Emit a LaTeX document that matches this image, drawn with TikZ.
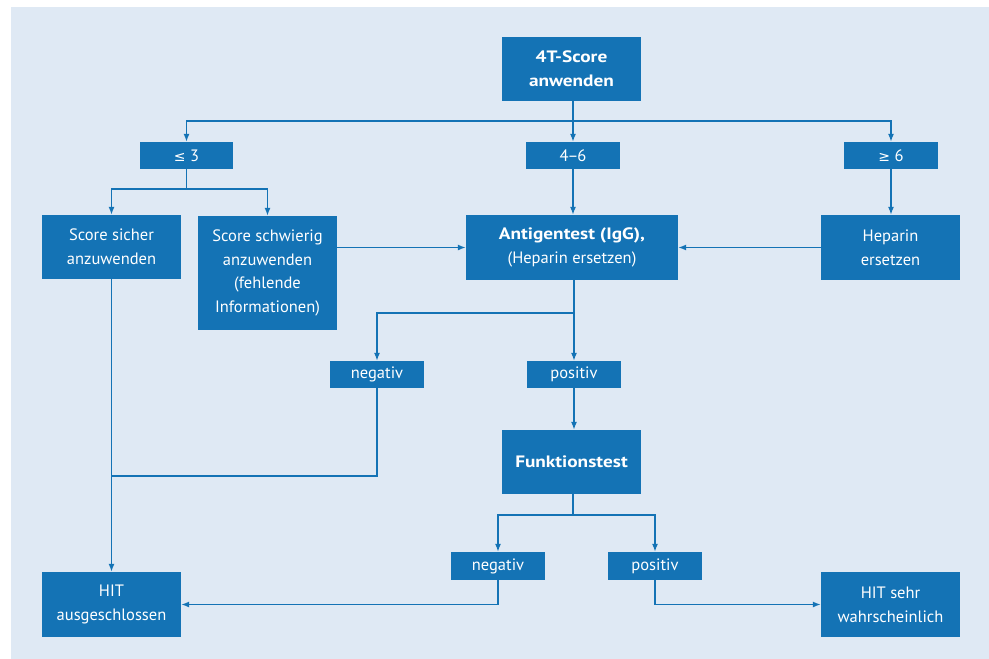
\documentclass[tikz,border=0pt]{standalone}
\usepackage{fontspec}
\setmainfont{PT Sans}
\newfontfamily\symf{DejaVu Sans}
\newfontfamily\boldwide[FakeStretch=1.17]{PT Sans}
\usetikzlibrary{arrows.meta}
\definecolor{boxblue}{HTML}{1473B5}
\definecolor{bgblue}{HTML}{DFE9F4}
\newcommand{\bw}{\boldwide\bfseries}
\begin{document}
\begin{tikzpicture}[x=1pt,y=-1pt,
  box/.style={fill=boxblue,text=white,inner sep=0pt,align=center,font=\fontsize{16.5}{23.7}\selectfont},
  conn/.style={draw=boxblue,line width=1.3pt},
  arr/.style={conn,-{Latex[length=8pt,width=6pt]}}]
\useasboundingbox (0,0) rectangle (989,659);
\fill[bgblue] (11,7) rectangle (989,659);
% nodes
\node[box,minimum width=139pt,minimum height=64pt] (t4) at (571.5,69) {\bw 4T-Score\\\bw anwenden};
\node[box,minimum width=93pt,minimum height=27pt] (le3) at (186.5,155.5) {{\symf\fontsize{14}{15}\selectfont ≤} 3};
\node[box,minimum width=94pt,minimum height=27pt] (m46) at (573,155.5) {4\kern-1pt–\kern-1pt6};
\node[box,minimum width=94pt,minimum height=27pt] (ge6) at (891,155.5) {{\symf\fontsize{14}{15}\selectfont ≥} 6};
\node[box,minimum width=139pt,minimum height=64pt] (sicher) at (111.5,247) {Score sicher\\anzuwenden};
\node[box,minimum width=139pt,minimum height=114pt] (schw) at (267.5,273) {Score schwierig\\anzuwenden\\(fehlende\\Informationen)};
\node[box,minimum width=212pt,minimum height=65pt] (antigen) at (572,247.5) {\bw Antigentest (IgG),\\(Heparin ersetzen)};
\node[box,minimum width=139pt,minimum height=65pt] (hep) at (890.5,247.5) {Heparin\\ersetzen};
\node[box,minimum width=94pt,minimum height=27pt] (neg1) at (377,374.5) {negativ};
\node[box,minimum width=94pt,minimum height=27pt] (pos1) at (574,374.5) {positiv};
\node[box,minimum width=139pt,minimum height=64pt] (funk) at (571.5,462) {\bw Funktionstest};
\node[box,minimum width=94pt,minimum height=28pt] (neg2) at (498,566) {negativ};
\node[box,minimum width=94pt,minimum height=28pt] (pos2) at (655,566) {positiv};
\node[box,minimum width=139pt,minimum height=65pt] (hitaus) at (111.5,604.5) {HIT\\ausgeschlossen};
\node[box,minimum width=139pt,minimum height=65pt] (hitsehr) at (890.5,604.5) {HIT sehr\\wahrscheinlich};
% split coordinates
\coordinate (s1) at (573,121);
\coordinate (s2) at (186.5,189);
\coordinate (s3) at (574,313);
\coordinate (j1) at (111.5,476);
\coordinate (s4) at (573,515);
% connectors
\draw[conn] (t4.south -| s1) -- (s1);
\draw[arr] (s1) -| (le3.north);
\draw[arr] (s1) -- (m46.north);
\draw[arr] (s1) -| (ge6.north);
\draw[conn] (le3.south) -- (s2);
\draw[arr] (s2) -| (sicher.north);
\draw[arr] (s2) -| (schw.north);
\draw[arr] (m46.south) -- (antigen.north -| m46.south);
\draw[arr] (ge6.south) -- (hep.north -| ge6.south);
\draw[arr] (schw.east |- antigen.west) -- (antigen.west);
\draw[arr] (hep.west) -- (antigen.east);
\draw[conn] (antigen.south -| s3) -- (s3);
\draw[arr] (s3) -| (neg1.north);
\draw[arr] (s3) -- (pos1.north);
\draw[arr] (pos1.south) -- (funk.north -| pos1.south);
\draw[conn] (neg1.south) |- (j1);
\draw[arr] (sicher.south) -- (hitaus.north);
\draw[conn] (funk.south -| s4) -- (s4);
\draw[arr] (s4) -| (neg2.north);
\draw[arr] (s4) -| (pos2.north);
\draw[arr] (neg2.south) |- (hitaus.east);
\draw[arr] (pos2.south) |- (hitsehr.west);
\end{tikzpicture}
\end{document}
